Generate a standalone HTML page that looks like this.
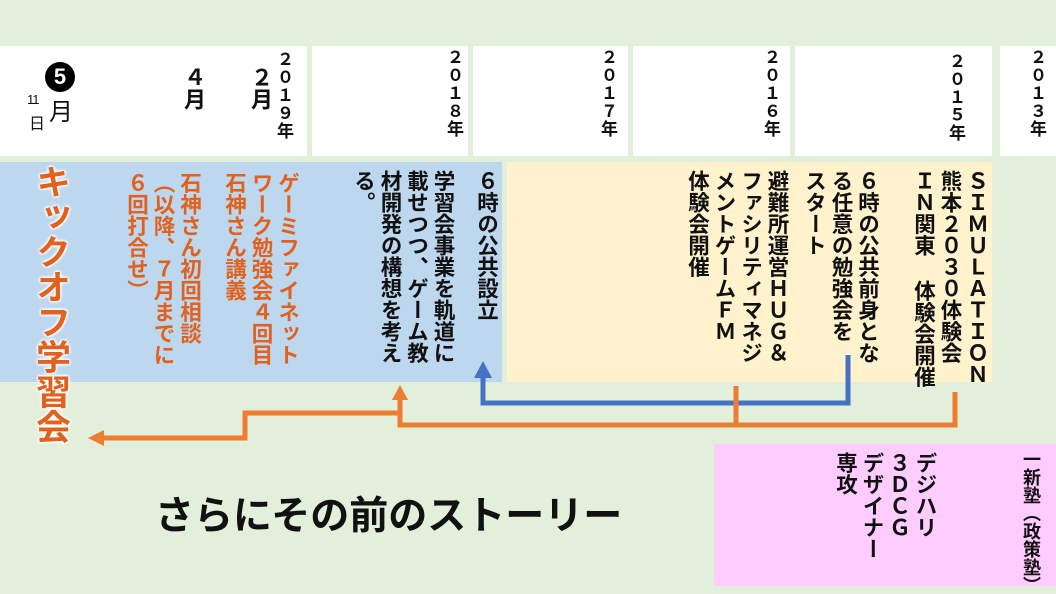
<!DOCTYPE html>
<html><head><meta charset="utf-8"><style>
body{margin:0;}
#c{position:relative;width:1056px;height:594px;background:#e2efda;overflow:hidden;font-family:"Liberation Sans","Noto Sans CJK JP",sans-serif;font-weight:bold;color:#111;}
.b{position:absolute;}
.v{position:absolute;writing-mode:vertical-rl;text-orientation:upright;white-space:nowrap;}
.y{font-size:17px;line-height:18px;letter-spacing:1px;}
.t{font-size:21.5px;line-height:26.5px;}
.o{color:#e0621e;}
</style></head><body><div id="c">
<div class="b" style="left:0;top:46px;width:307px;height:110px;background:#fff"></div>
<div class="b" style="left:312px;top:46px;width:156px;height:110px;background:#fff"></div>
<div class="b" style="left:473px;top:46px;width:155px;height:110px;background:#fff"></div>
<div class="b" style="left:633px;top:46px;width:157px;height:110px;background:#fff"></div>
<div class="b" style="left:795px;top:46px;width:197px;height:110px;background:#fff"></div>
<div class="b" style="left:1000px;top:46px;width:56px;height:110px;background:#fff"></div>
<div class="b" style="left:0;top:162px;width:502px;height:220px;background:#bdd7ee"></div>
<div class="b" style="left:507px;top:162px;width:485px;height:220px;background:#fff2cc"></div>
<div class="b" style="left:714px;top:444px;width:342px;height:142px;background:#ffccff"></div>

<div class="v y" style="left:274px;top:50px">２０１９年</div>
<div class="v y" style="left:444px;top:48px">２０１８年</div>
<div class="v y" style="left:598px;top:48px">２０１７年</div>
<div class="v y" style="left:761px;top:48px">２０１６年</div>
<div class="v y" style="left:946px;top:52px">２０１５年</div>
<div class="v y" style="left:1027px;top:48px">２０１３年</div>
<div class="v" style="left:249px;top:66px;font-size:22px;line-height:22px">２月</div>
<div class="v" style="left:182px;top:66px;font-size:22px;line-height:22px">４月</div>
<div class="b" style="left:45px;top:62px;width:30px;height:30px;border-radius:50%;background:#000;color:#fff;font-size:22px;line-height:30px;text-align:center">5</div>
<div class="b" style="left:49px;top:92px;font-size:24px;font-weight:normal">月</div>
<div class="b" style="left:27px;top:92px;font-size:13px;font-weight:normal;letter-spacing:-1px">11</div>
<div class="b" style="left:29px;top:110px;font-size:16px;font-weight:normal">日</div>

<div class="v t" style="left:473px;top:170px">６時の公共設立</div>
<div class="v t" style="left:350px;top:170px">学習会事業を軌道に<br>載せつつ、ゲーム教<br>材開発の構想を考え<br>る。</div>
<div class="v t o" style="left:221px;top:172px">ゲーミファイネット<br>ワーク勉強会４回目<br>石神さん講義</div>
<div class="v t o" style="left:123px;top:172px">石神さん初回相談<br>（以降、７月までに<br>６回打合せ）</div>
<div class="v" style="left:28px;top:164px;font-size:35px;line-height:44px;color:#e0621e;text-shadow:0 0 3px #fff,0 0 3px #fff,0 0 3px #fff,0 0 3px #fff">キックオフ学習会</div>

<div class="v t" style="left:910px;top:170px">ＳＩＭＵＬＡＴＩＯＮ<br>熊本２０３０体験会<br>ＩＮ関東 体験会開催</div>
<div class="v t" style="left:801px;top:170px">６時の公共前身とな<br>る任意の勉強会を<br>スタート</div>
<div class="v t" style="left:684px;top:170px">避難所運営ＨＵＧ＆<br>ファシリティマネジ<br>メントゲームＦＭ<br>体験会開催</div>

<div class="v" style="left:1020px;top:450px;font-size:18px;line-height:22px">一新塾（政策塾）</div>
<div class="v t" style="left:832px;top:452px">デジハリ<br>３ＤＣＧ<br>デザイナー<br>専攻</div>

<div class="b" style="left:155px;top:494px;font-size:39px;line-height:46px;white-space:nowrap">さらにその前のストーリー</div>

<svg class="b" style="left:0;top:0" width="1056" height="594">
<g fill="none" stroke-width="5">
<polyline points="848,355 848,403 483,403 483,375" stroke="#4472c4"/>
<polyline points="955,392 955,425 400,425 400,398" stroke="#ed7d31"/>
<polyline points="736,386 736,425" stroke="#ed7d31"/>
<polyline points="400,413 245,413 245,438 100,438" stroke="#ed7d31"/>
</g>
<polygon points="483,361 474,378 492,378" fill="#4472c4"/>
<polygon points="400,385 392,400 408,400" fill="#ed7d31"/>
<polygon points="88,438 104,430 104,446" fill="#ed7d31"/>
</svg>
</div></body></html>
